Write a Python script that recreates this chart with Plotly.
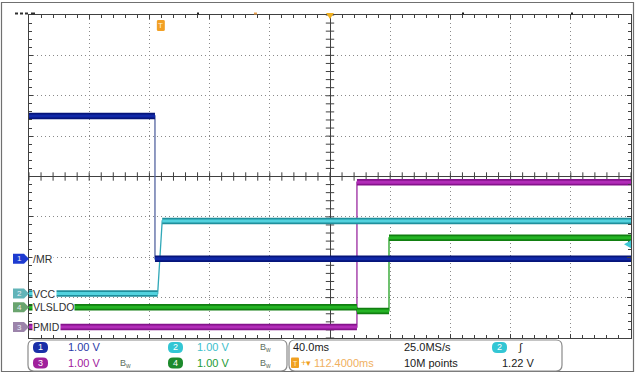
import plotly.graph_objects as go
import numpy as np

# ---------------- data ----------------
TIME_PER_DIV_MS = 40.0
VOLTS_PER_DIV = 1.0
X_RANGE_MS = [-200.0, 200.0]
Y_RANGE_DIV = [-4.0, 4.0]

channel_labels = ["/MR", "VCC", "VLSLDO", "PMID"]
channel_numbers = ["1", "2", "4", "3"]
channel_offsets_div = [-2.04, -2.90, -3.24, -3.73]

ch1_time_ms = [-200.0, -116.3, -116.3, 200.0]
ch1_volts = [3.54, 3.54, 0.0, 0.0]

ch2_time_ms = [-200.0, -114.5, -111.5, 200.0]
ch2_volts = [0.0, 0.0, 1.80, 1.80]

ch4_time_ms = [-200.0, 17.9, 17.9, 39.2, 39.2, 200.0]
ch4_volts = [0.0, 0.0, -0.09, -0.09, 1.72, 1.72]

ch3_time_ms = [-200.0, 17.9, 17.9, 200.0]
ch3_volts = [0.0, 0.0, 3.59, 3.59]

TRIGGER_TIME_MS = -112.4
TRIGGER_LEVEL_V = 1.22

scale_texts = ["1.00 V", "1.00 V", "1.00 V", "1.00 V"]
timebase_text = "40.0ms"
delay_text = "112.4000ms"
rate_text = "25.0MS/s"
points_text = "10M points"
trig_level_text = "1.22 V"

# ---------------- styling ----------------
COL = {
    "1": dict(dark="#06157a", light="#1129a8", edge="#5565a0", badge="#1d3bd0", pill="#1a2fa8", text="#2a3aa8"),
    "2": dict(dark="#1f8f9c", light="#52d2de", edge="#30a8b8", badge="#62b4b8", pill="#33c6d4", text="#40c0cc"),
    "4": dict(dark="#117f11", light="#25b425", edge="#22a022", badge="#6aa46e", pill="#1c8a2c", text="#249a34"),
    "3": dict(dark="#85138c", light="#b22cb8", edge="#9a2aa0", badge="#9c84aa", pill="#a0209c", text="#a0209c"),
}
FONT = "Liberation Sans"
W, H = 635, 373
PX_L, PX_R, PX_T, PX_B = 29, 631, 15, 338


def px_x(px):
    return (px - PX_L) / (PX_R - PX_L)


def px_y(py):
    return (PX_B - py) / (PX_B - PX_T)


def t_to_px(t):
    return PX_L + (t - X_RANGE_MS[0]) / (X_RANGE_MS[1] - X_RANGE_MS[0]) * (PX_R - PX_L)


def div_to_py(d):
    return PX_B - (d - Y_RANGE_DIV[0]) / (Y_RANGE_DIV[1] - Y_RANGE_DIV[0]) * (PX_B - PX_T)


fig = go.Figure()

# center crosshair ticks (generated from the division spacing)
minor_t = np.arange(X_RANGE_MS[0], X_RANGE_MS[1] + 0.1, TIME_PER_DIV_MS / 5)
minor_v = np.arange(Y_RANGE_DIV[0], Y_RANGE_DIV[1] + 0.01, 0.2)
fig.add_trace(go.Scatter(x=minor_t, y=np.zeros_like(minor_t), mode="markers",
                         marker=dict(symbol="line-ns", size=6, line=dict(width=1, color="#404040")),
                         hoverinfo="skip", showlegend=False))
fig.add_trace(go.Scatter(x=np.zeros_like(minor_v), y=minor_v, mode="markers",
                         marker=dict(symbol="line-ew", size=6, line=dict(width=1, color="#404040")),
                         hoverinfo="skip", showlegend=False))


def add_channel(num, t, v, offset):
    c = COL[num]
    y = [vi / VOLTS_PER_DIV + offset for vi in v]
    tx, ty = [], []
    for i in range(len(t) - 1):
        if v[i] == v[i + 1]:
            tx += [t[i], t[i + 1], None]
            ty += [y[i], y[i + 1], None]
    fig.add_trace(go.Scatter(x=t, y=y, mode="lines", line=dict(color=c["edge"], width=1.3),
                             hoverinfo="skip", showlegend=False))
    fig.add_trace(go.Scatter(x=tx, y=ty, mode="lines", line=dict(color=c["dark"], width=6.5),
                             hoverinfo="skip", showlegend=False))
    fig.add_trace(go.Scatter(x=tx, y=ty, mode="lines", line=dict(color=c["light"], width=3),
                             hoverinfo="skip", showlegend=False))


add_channel("3", ch3_time_ms, ch3_volts, channel_offsets_div[3])
add_channel("4", ch4_time_ms, ch4_volts, channel_offsets_div[2])
add_channel("2", ch2_time_ms, ch2_volts, channel_offsets_div[1])
add_channel("1", ch1_time_ms, ch1_volts, channel_offsets_div[0])

shapes = []
annotations = []


def path_poly(pts):
    s = "M " + " L ".join(f"{px_x(x):.5f},{px_y(y):.5f}" for x, y in pts) + " Z"
    return s


def rr_path(x0, y0, x1, y1, r):
    def p(x, y):
        return f"{px_x(x):.5f},{px_y(y):.5f}"
    return (f"M {p(x0 + r, y0)} L {p(x1 - r, y0)} Q {p(x1, y0)} {p(x1, y0 + r)} "
            f"L {p(x1, y1 - r)} Q {p(x1, y1)} {p(x1 - r, y1)} L {p(x0 + r, y1)} "
            f"Q {p(x0, y1)} {p(x0, y1 - r)} L {p(x0, y0 + r)} Q {p(x0, y0)} {p(x0 + r, y0)} Z")


def text(x, y, s, color="#202020", size=11, xanchor="left", bg=None):
    annotations.append(dict(x=px_x(x), y=px_y(y), xref="paper", yref="paper", text=s,
                            showarrow=False, xanchor=xanchor, yanchor="middle",
                            font=dict(family=FONT, size=size, color=color),
                            bgcolor=bg, borderpad=0))


# outer frame
shapes.append(dict(type="path", xref="paper", yref="paper",
                   path=path_poly([(1.5, 2.5), (633.5, 2.5), (633.5, 371.5), (1.5, 371.5)]),
                   line=dict(color="#707070", width=1.2), fillcolor="rgba(0,0,0,0)"))

# left channel badges + labels
for lab, num, off in zip(channel_labels, channel_numbers, channel_offsets_div):
    yc = div_to_py(off)
    shapes.append(dict(type="path", xref="paper", yref="paper",
                       path=path_poly([(13, yc - 5), (24, yc - 5), (29, yc), (24, yc + 5), (13, yc + 5)]),
                       line=dict(width=0), fillcolor=COL[num]["badge"]))
    text(19, yc, num, color="#e8eef8", size=8, xanchor="center")
    text(31.5, yc, lab, color="#303030", size=10.5, bg="white")

# trigger marker "T" at top, trigger-position triangle, trigger-level arrow
tx_px = t_to_px(TRIGGER_TIME_MS)
shapes.append(dict(type="path", xref="paper", yref="paper",
                   path=rr_path(tx_px - 4, 20, tx_px + 4, 31, 1.5),
                   line=dict(width=0), fillcolor="#f2a024"))
text(tx_px, 25.5, "T", color="#fff4d8", size=8, xanchor="center")
cx = t_to_px(0)
shapes.append(dict(type="path", xref="paper", yref="paper",
                   path=path_poly([(cx - 4, 13), (cx + 4, 13), (cx, 19)]),
                   line=dict(width=0), fillcolor="#f0b020"))
ly = div_to_py(channel_offsets_div[1] + TRIGGER_LEVEL_V / VOLTS_PER_DIV)
shapes.append(dict(type="path", xref="paper", yref="paper",
                   path=path_poly([(631, ly - 4), (631, ly + 4), (624, ly)]),
                   line=dict(width=0), fillcolor="#40c8d4"))

# small marks along the top edge
for x0, x1, colr in [(15, 18, "#303030"), (20, 23, "#303030"), (25, 28, "#303030"), (31, 35, "#303030"),
                     (197, 199, "#202020"), (254, 257, "#e8a050"), (462, 464, "#202020"), (571, 573, "#202020")]:
    shapes.append(dict(type="rect", xref="paper", yref="paper", x0=px_x(x0), x1=px_x(x1),
                       y0=px_y(14.5), y1=px_y(12.5), line=dict(width=0), fillcolor=colr))

# bottom info boxes
shapes.append(dict(type="path", xref="paper", yref="paper", path=rr_path(28, 340, 287, 371, 6),
                   line=dict(color="#8a8a8a", width=1.2), fillcolor="white"))
shapes.append(dict(type="path", xref="paper", yref="paper", path=rr_path(289, 340, 562, 371, 6),
                   line=dict(color="#8a8a8a", width=1.2), fillcolor="white"))

ROW1, ROW2 = 347.5, 363
pill_specs = [("1", 40.5, ROW1, 67, scale_texts[0]), ("3", 40.5, ROW2, 67, scale_texts[2]),
              ("2", 175.5, ROW1, 196, scale_texts[1]), ("4", 175.5, ROW2, 196, scale_texts[3])]
for num, pxc, py, tx, s in pill_specs:
    shapes.append(dict(type="path", xref="paper", yref="paper",
                       path=rr_path(pxc - 7.5, py - 5.5, pxc + 7.5, py + 5.5, 5),
                       line=dict(width=0), fillcolor=COL[num]["pill"]))
    text(pxc, py, num, color="white", size=9, xanchor="center")
    text(tx, py, s, color=COL[num]["text"], size=11)

for bx, by in [(125, ROW2), (265, ROW1), (265, ROW2)]:
    text(bx, by, "B<sub>w</sub>", color="#607060", size=9, xanchor="center")

text(292, ROW1, timebase_text, color="#202020", size=11)
shapes.append(dict(type="path", xref="paper", yref="paper", path=rr_path(291, 357.5, 299, 368, 1),
                   line=dict(width=0), fillcolor="#f0a020"))
text(295, ROW2, "T", color="#fff0d0", size=7, xanchor="center")
text(300, ROW2, "+▾", color="#f0a020", size=9)
text(313, ROW2, delay_text, color="#f0b060", size=11)
text(403, ROW1, rate_text, color="#202020", size=11)
text(403, ROW2, points_text, color="#202020", size=11)
shapes.append(dict(type="path", xref="paper", yref="paper",
                   path=rr_path(492, ROW1 - 5.5, 507, ROW1 + 5.5, 5),
                   line=dict(width=0), fillcolor=COL["2"]["pill"]))
text(499.5, ROW1, "2", color="white", size=9, xanchor="center")
text(520, ROW1, "∫", color="#202020", size=11, xanchor="center")
text(501, ROW2, trig_level_text, color="#202020", size=11)

axis_common = dict(showticklabels=False, showline=True, linecolor="#404040", linewidth=1,
                   mirror="ticks", ticks="inside", ticklen=4, tickcolor="#404040",
                   showgrid=True, gridcolor="#8a8a8a", griddash="1px,3px", gridwidth=1,
                   zeroline=True, zerolinecolor="#404040", zerolinewidth=1, fixedrange=True)

fig.update_layout(
    width=W, height=H, autosize=False,
    margin=dict(l=PX_L, r=W - PX_R, t=PX_T, b=H - PX_B, pad=0),
    paper_bgcolor="white", plot_bgcolor="white", showlegend=False,
    xaxis=dict(range=X_RANGE_MS, tick0=0, dtick=TIME_PER_DIV_MS,
               minor=dict(dtick=TIME_PER_DIV_MS / 5, ticks="inside", ticklen=3, tickcolor="#404040",
                          showgrid=False),
               **axis_common),
    yaxis=dict(range=Y_RANGE_DIV, tick0=0, dtick=1,
               minor=dict(dtick=0.2, ticks="inside", ticklen=3, tickcolor="#404040", showgrid=False),
               **axis_common),
    shapes=shapes, annotations=annotations,
)

fig.write_html("out.html", config={"displayModeBar": False},
               post_script="document.body.style.margin='0';document.body.style.padding='0';"
                           "document.documentElement.style.overflow='hidden';")
